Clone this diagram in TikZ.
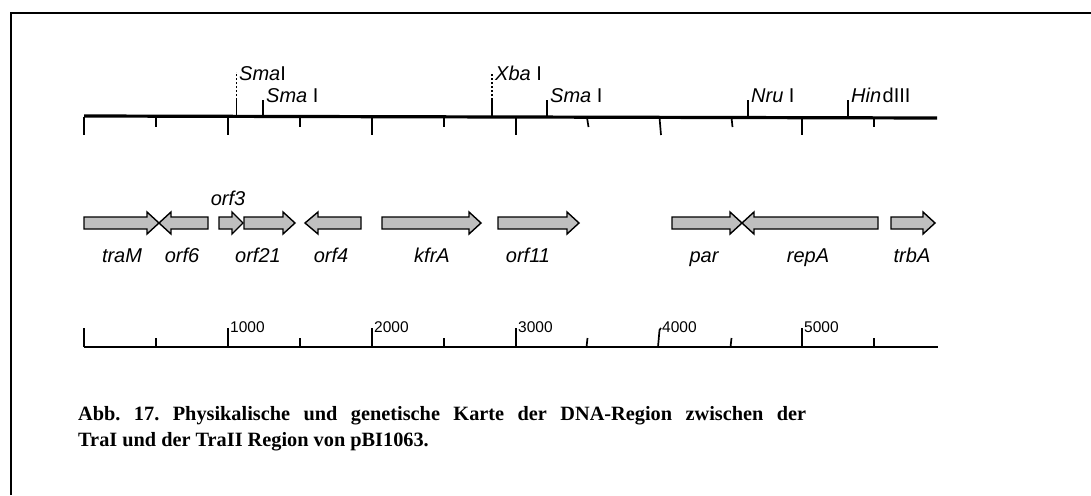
\documentclass[tikz,border=0pt]{standalone}
\usepackage{fontspec}
\setmainfont{Liberation Serif}
\setsansfont{Liberation Sans}
\tikzset{
  genestyle/.style={draw=black, fill=gray!50, line width=1.4pt, line join=miter},
  mapline/.style={line width=3.2pt},
  scaleline/.style={line width=1.7pt},
  tickline/.style={line width=1.7pt},
  sitelbl/.style={font=\sffamily\fontsize{20}{20}\selectfont, inner sep=0pt, anchor=base west},
  genelbl/.style={font=\sffamily\itshape\fontsize{20}{20}\selectfont, inner sep=0pt, anchor=base},
  numlbl/.style={font=\sffamily\fontsize{15.5}{15.5}\selectfont, inner sep=0pt, anchor=base west},
  caplbl/.style={font=\bfseries\fontsize{20.3}{20.3}\selectfont\frenchspacing, inner sep=0pt, anchor=base west}
}
\newcommand{\geneR}[4]{\draw[genestyle] (#2,217) -- (#3,217) -- (#3,212) -- (#4,223) -- (#3,234) -- (#3,229) -- (#2,229) -- cycle; \coordinate (#1) at (#2,223);}
\newcommand{\geneL}[4]{\draw[genestyle] (#4,217) -- (#3,217) -- (#3,212) -- (#2,223) -- (#3,234) -- (#3,229) -- (#4,229) -- cycle; \coordinate (#1) at (#2,223);}
\begin{document}
\begin{tikzpicture}[x=1pt,y=-1pt]
\useasboundingbox (0,0) rectangle (1091,495);
\fill[white] (0,0) rectangle (1091,495);
% frame
\draw[line width=2pt] (11,495) -- (11,13.5) -- (1091,13.5);
% top map line
\draw[mapline] (84,116) -- (937,118);
\foreach \x in {84,228,372,516,802} \draw[tickline] (\x,117) -- (\x,135);
\foreach \x in {156,300,444,874} \draw[tickline] (\x,117) -- (\x,127);
\draw[tickline] (659.5,117.5) -- (661,135);
\draw[tickline] (587,117.5) -- (588.5,127);
\draw[tickline] (731.5,117.5) -- (732.5,127);
% restriction sites
\draw[tickline] (236.5,116) -- (236.5,100);
\draw[line width=1.1pt, dash pattern=on 2pt off 2pt] (236.5,100) -- (236.5,72);
\node[sitelbl] (sma1) at (239,80) {\textit{Sma}I};
\draw[tickline] (263,116) -- (263,100);
\node[sitelbl] (sma2) at (266,102) {\textit{Sma} I};
\draw[tickline] (492,117) -- (492,100);
\draw[line width=1.1pt, dash pattern=on 2pt off 2pt] (492,100) -- (492,74);
\node[sitelbl] (xba) at (495,80) {\textit{Xba} I};
\draw[tickline] (547,117) -- (547,100);
\node[sitelbl] (sma3) at (550,102) {\textit{Sma} I};
\draw[tickline] (748,117) -- (748,100);
\node[sitelbl] (nru) at (751,102) {\textit{Nru} I};
\draw[tickline] (848,118) -- (848,100);
\node[sitelbl] (hind) at (851,102) {\textit{Hin}\kern1.5pt dIII};
% genes
\geneR{traM}{84}{147}{159}
\geneL{orf6}{159}{171}{208}
\geneR{orf3}{219}{232}{243}
\geneR{orf21}{244}{283}{295}
\geneL{orf4}{305}{318}{361}
\geneR{kfrA}{382}{469}{481}
\geneR{orf11}{498}{567}{579}
\geneR{par}{672}{730}{742}
\geneL{repA}{742}{754}{878}
\geneR{trbA}{891}{923}{935}
\node[genelbl] (ltraM) at (122,262) {traM};
\node[genelbl] (lorf6) at (182,262) {orf6};
\node[genelbl] (lorf3) at (228,205) {orf3};
\node[genelbl] (lorf21) at (258,262) {orf21};
\node[genelbl] (lorf4) at (331,262) {orf4};
\node[genelbl] (lkfrA) at (432,262) {kfrA};
\node[genelbl] (lorf11) at (528,262) {orf11};
\node[genelbl] (lpar) at (704,262) {par};
\node[genelbl] (lrepA) at (808,262) {repA};
\node[genelbl] (ltrbA) at (912,262) {trbA};
% bottom scale
\draw[scaleline] (84,347) -- (938,347);
\foreach \x in {84,228,372,516,802} \draw[tickline] (\x,347) -- (\x,328);
\foreach \x in {156,300,444,874} \draw[tickline] (\x,347) -- (\x,338);
\draw[tickline] (658,347) -- (659.5,330) -- (661,328);
\draw[tickline] (586.5,347) -- (587.5,338);
\draw[tickline] (730.5,347) -- (731.5,338);
\node[numlbl] (n1) at (230,332) {1000};
\node[numlbl] (n2) at (374,332) {2000};
\node[numlbl] (n3) at (518,332) {3000};
\node[numlbl] (n4) at (662,332) {4000};
\node[numlbl] (n5) at (804,332) {5000};
% caption
\node[caplbl] (cap1) at (78,420) {\makebox[728pt][s]{Abb. 17. Physikalische und genetische Karte der DNA-Region zwischen der}};
\node[caplbl] (cap2) at (78,446) {TraI und der TraII Region von pBI1063.};
\end{tikzpicture}
\end{document}
